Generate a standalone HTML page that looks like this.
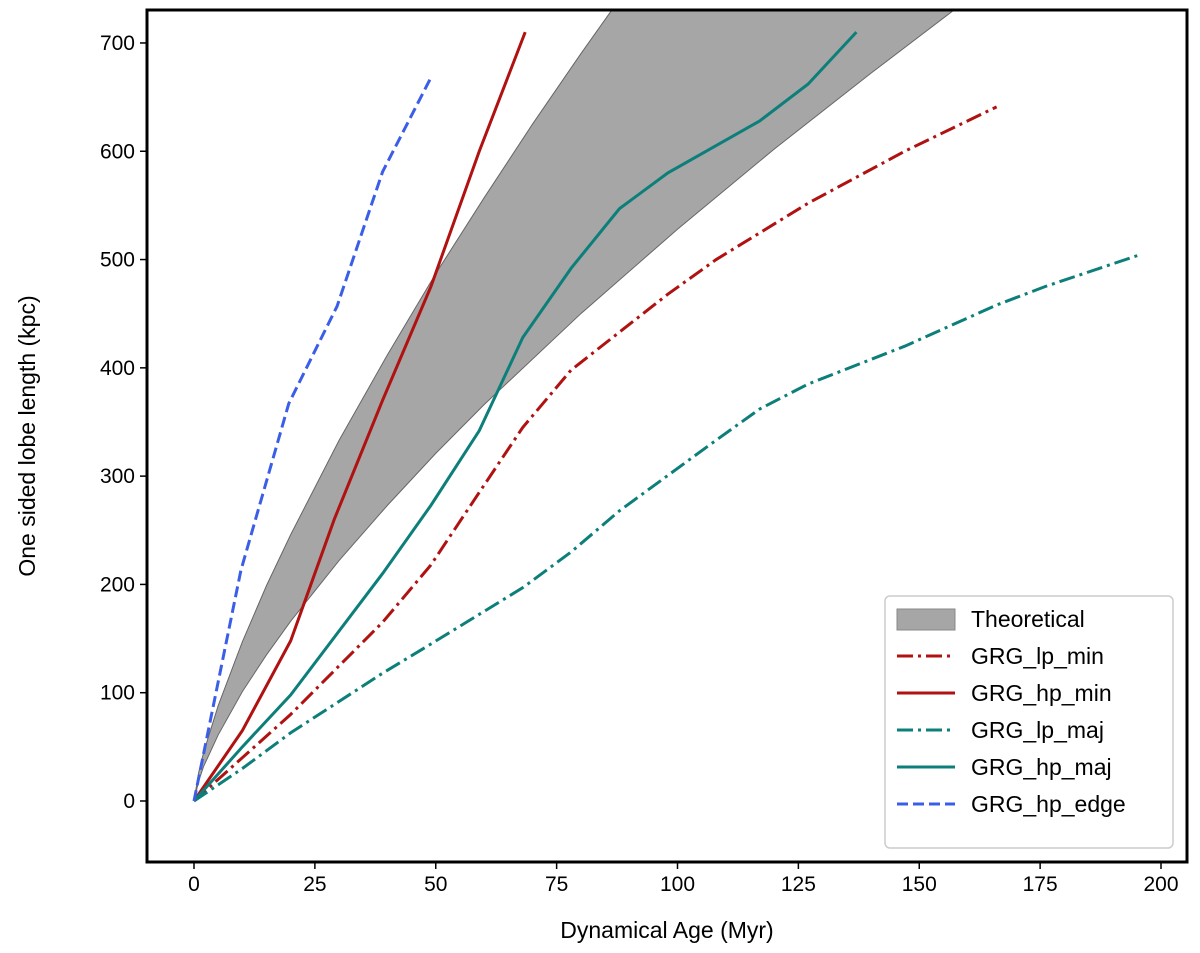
<!DOCTYPE html>
<html><head><meta charset="utf-8"><style>
body{margin:0;background:#fff;}
svg{display:block;font-family:"Liberation Sans","DejaVu Sans",sans-serif;}
</style></head><body>
<svg id="chart" width="1200" height="953"></svg>
<script>
const bandUpperT=[0,1,2,5,10,15,20,30,40,50,60,70,80,90];
const bandUpperV=[0,27,45,88,147,199,246,333,412,487,557,625,690,753];
const bandLowerT=[0,1,2,5,10,15,20,30,40,50,60,80,100,120,140,160];
const bandLowerV=[0,19,32,61,101,135,166,222,273,321,366,450,528,602,672,740];
const lpMinT=[0,10,20,39,49,59,68,78,98,108,127,147,166];
const lpMinV=[0,40,80,165,218,285,345,398,468,500,552,600,641];
const hpMinT=[0,10,20,29,39,49,59,68.5];
const hpMinV=[0,65,148,260,370,475,600,710];
const lpMajT=[0,10,20,39,49,68,78,88,107,117,127,147,166,176,196];
const lpMajV=[0,30,63,118,145,197,230,268,330,362,385,420,458,475,505];
const hpMajT=[0,10,20,39,49,59,68,78,88,98,117,127,137];
const hpMajV=[0,50,98,210,273,342,428,492,547,580,628,662,710];
const edgeT=[0,5,9.7,19.6,29.6,39,49];
const edgeV=[0,110,213,367,457,581,668];
const xTicks=[0,25,50,75,100,125,150,175,200];
const yTicks=[0,100,200,300,400,500,600,700];

const NS="http://www.w3.org/2000/svg";
const svg=document.getElementById('chart');
const L=147,R=1187,T=10,B=862;
const X=v=>194+v*4.835;
const Y=v=>801-v*1.0829;
function el(tag,a,parent){const e=document.createElementNS(NS,tag);for(const k in a)e.setAttribute(k,a[k]);(parent||svg).appendChild(e);return e;}
const defs=el('defs',{});
const cp=el('clipPath',{id:'clip'},defs);el('rect',{x:L,y:T,width:R-L,height:B-T},cp);
const g=el('g',{'clip-path':'url(#clip)'});
const upPts=bandUpperT.map((t,i)=>X(t)+','+Y(bandUpperV[i]));
const loPts=bandLowerT.map((t,i)=>X(t)+','+Y(bandLowerV[i]));
const bandD='M'+upPts.join('L')+'L'+loPts.slice().reverse().join('L')+'Z';
const band=el('path',{d:bandD,fill:'#a6a6a6',stroke:'none'},g);


el('polyline',{points:upPts.join(' '),fill:'none',stroke:'#666','stroke-width':1},g);
el('polyline',{points:loPts.join(' '),fill:'none',stroke:'#666','stroke-width':1},g);
function line(ts,vs,color,dash,name){
 const p=el('polyline',{points:ts.map((t,i)=>X(t)+','+Y(vs[i])).join(' '),fill:'none',stroke:color,'stroke-width':3,'stroke-dasharray':dash||'none'},g);
 
 
}
const dd='16,5,3,5';
line(lpMinT,lpMinV,'#b01111',dd,'line-grg-lp-min');
line(hpMinT,hpMinV,'#b01111','','line-grg-hp-min');
line(lpMajT,lpMajV,'#0d7f7a',dd,'line-grg-lp-maj');
line(hpMajT,hpMajV,'#0d7f7a','','line-grg-hp-maj');
line(edgeT,edgeV,'#3b5ee8','11,5','line-grg-hp-edge');
const fr=el('rect',{x:L,y:T,width:R-L,height:B-T,fill:'none',stroke:'#000','stroke-width':3});


xTicks.forEach(v=>{
 el('line',{x1:X(v),x2:X(v),y1:B,y2:B+7,stroke:'#000','stroke-width':1.5});
 const t=el('text',{x:X(v),y:B+29,'text-anchor':'middle','font-size':21});
 t.textContent=v;
 
 
});
yTicks.forEach(v=>{
 el('line',{x1:L-7,x2:L,y1:Y(v),y2:Y(v),stroke:'#000','stroke-width':1.5});
 const t=el('text',{x:L-12,y:Y(v)+7,'text-anchor':'end','font-size':21});
 t.textContent=v;
 
 
});
const xt=el('text',{x:667,y:938,'text-anchor':'middle','font-size':23});xt.textContent='Dynamical Age (Myr)';


const yt=el('text',{x:35,y:436,'text-anchor':'middle','font-size':23,transform:'rotate(-90 35 436)'});yt.textContent='One sided lobe length (kpc)';


const lg=el('g',{});


el('rect',{x:885,y:596,width:288,height:252,rx:5,fill:'#fff',stroke:'#ccc','stroke-width':1.5},lg);
const items=[['Theoretical','band'],['GRG_lp_min','#b01111',dd],['GRG_hp_min','#b01111',''],['GRG_lp_maj','#0d7f7a',dd],['GRG_hp_maj','#0d7f7a',''],['GRG_hp_edge','#3b5ee8','11,5']];
items.forEach((it,i)=>{
 const y=619+i*37;
 if(it[1]==='band')el('rect',{x:897,y:y-10,width:58,height:21,fill:'#a6a6a6',stroke:'#888'},lg);
 else el('line',{x1:897,x2:955,y1:y,y2:y,stroke:it[1],'stroke-width':3,'stroke-dasharray':it[2]||'none'},lg);
 const t=el('text',{x:971,y:y+8,'font-size':23},lg);t.textContent=it[0];
 
 
});
</script>
</body></html>
